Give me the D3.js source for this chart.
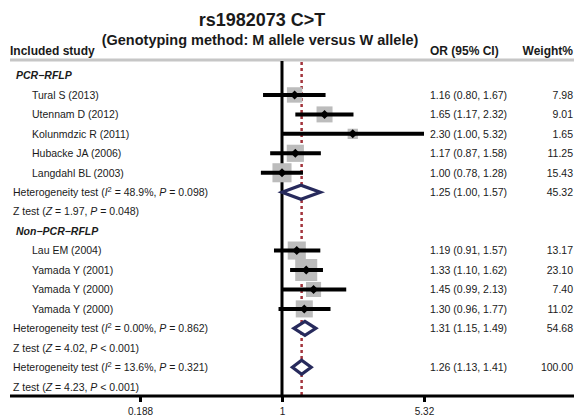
<!DOCTYPE html>
<html>
<head>
<meta charset="utf-8">
<script src="https://cdnjs.cloudflare.com/ajax/libs/d3/7.8.5/d3.min.js"></script>
<style>
body { margin: 0; background: #fff; }
text { font-family: 'Liberation Sans', Arial, sans-serif; fill: #1a1a1a; }
</style>
</head>
<body>
<script>

// study level data
const groups = ['PCR\u2212RFLP', 'Non\u2212PCR\u2212RFLP']
const studyGroup = [0, 0, 0, 0, 0, 1, 1, 1, 1]
const studyNames = ['Tural S (2013)', 'Utennam D (2012)', 'Kolunmdzic R (2011)', 'Hubacke JA (2006)',
	'Langdahl BL (2003)', 'Lau EM (2004)', 'Yamada Y (2001)', 'Yamada Y (2000)', 'Yamada Y (2000)']
const studyOR = [1.16, 1.65, 2.30, 1.17, 1.00, 1.19, 1.33, 1.45, 1.30]
const studyLow = [0.80, 1.17, 1.00, 0.87, 0.78, 0.91, 1.10, 0.99, 0.96]
const studyHigh = [1.67, 2.32, 5.32, 1.58, 1.28, 1.57, 1.62, 2.13, 1.77]
const studyWeight = ['7.98', '9.01', '1.65', '11.25', '15.43', '13.17', '23.10', '7.40', '11.02']

// pooled estimates: PCR-RFLP, Non-PCR-RFLP, overall
const poolOR = [1.25, 1.31, 1.26]
const poolLow = [1.00, 1.15, 1.13]
const poolHigh = [1.57, 1.49, 1.41]
const poolWeight = ['45.32', '54.68', '100.00']
const hetI2 = ['48.9%', '0.00%', '13.6%']
const hetP = ['= 0.098', '= 0.862', '= 0.321']
const zVal = ['1.97', '4.02', '4.23']
const zP = ['= 0.048', '< 0.001', '< 0.001']

const axisTicks = [0.188, 1, 5.32]

const width = 574
const height = 417

const fmt = d3.format('.2f')

// build the row layout
const rows = []
groups.forEach(function(g, gi) {
	rows.push({type: 'group', label: g})
	studyNames.forEach(function(s, i) {
		if (studyGroup[i] === gi) rows.push({type: 'study', i: i})
	})
	rows.push({type: 'het', i: gi})
	rows.push({type: 'z', i: gi})
})
rows.push({type: 'het', i: 2})
rows.push({type: 'z', i: 2})

const x = d3.scaleLog().domain([0.188, 5.32]).range([140, 424])
const y = d3.scaleLinear().domain([0, rows.length - 1]).range([75.5, 386.7])
const box = d3.scaleSqrt().domain([0, 23.1]).range([6, 22])

const axisY = 396

const svg = d3.select('body').append('svg')
	.attr('width', width)
	.attr('height', height)

// titles
svg.append('text')
	.attr('x', 262).attr('y', 26)
	.attr('text-anchor', 'middle')
	.style('font-size', '18px').style('font-weight', 'bold')
	.text('rs1982073 C>T')

svg.append('text')
	.attr('x', 260).attr('y', 45)
	.attr('text-anchor', 'middle')
	.style('font-size', '14.5px').style('font-weight', 'bold')
	.text('(Genotyping method: M allele versus W allele)')

const header = svg.append('g').style('font-size', '12px').style('font-weight', 'bold')
header.append('text').attr('x', 10).attr('y', 55).text('Included study')
header.append('text').attr('x', 430).attr('y', 55).text('OR (95% CI)')
header.append('text').attr('x', 573).attr('y', 55).attr('text-anchor', 'end').text('Weight%')

svg.append('line')
	.attr('x1', 10).attr('x2', width)
	.attr('y1', 60).attr('y2', 60)
	.style('stroke', '#c6c6c6').style('stroke-width', 3)

// reference lines
svg.append('line')
	.attr('x1', x(1)).attr('x2', x(1))
	.attr('y1', 61).attr('y2', axisY)
	.style('stroke', '#000').style('stroke-width', 3)

svg.append('line')
	.attr('x1', x(poolOR[2])).attr('x2', x(poolOR[2]))
	.attr('y1', 62).attr('y2', axisY)
	.style('stroke', '#a3343c').style('stroke-width', 2.5)
	.style('stroke-dasharray', '3,3')

// axis
svg.append('line')
	.attr('x1', 10).attr('x2', width)
	.attr('y1', axisY).attr('y2', axisY)
	.style('stroke', '#000').style('stroke-width', 3)

const xAxis = d3.axisBottom(x)
	.tickValues(axisTicks)
	.tickFormat(function(d) { return d })
	.tickSize(6)
	.tickPadding(6)

const ax = svg.append('g')
	.attr('transform', 'translate(0,' + axisY + ')')
	.call(xAxis)
ax.select('.domain').remove()
ax.selectAll('.tick line').style('stroke', '#000').style('stroke-width', 3)
ax.selectAll('.tick text')
	.style('font-family', "'Liberation Sans', Arial, sans-serif")
	.style('font-size', '10px').style('fill', '#1a1a1a')

// text column
const label = svg.append('g').style('font-size', '10.5px')

rows.forEach(function(r, k) {
	const yy = y(k) + 3.8
	if (r.type === 'group') {
		label.append('text').attr('x', 16).attr('y', yy)
			.style('font-weight', 'bold').style('font-style', 'italic')
			.text(r.label)
	} else if (r.type === 'study') {
		label.append('text').attr('x', 32).attr('y', yy).text(studyNames[r.i])
		label.append('text').attr('x', 430).attr('y', yy)
			.text(fmt(studyOR[r.i]) + ' (' + fmt(studyLow[r.i]) + ', ' + fmt(studyHigh[r.i]) + ')')
		label.append('text').attr('x', 573).attr('y', yy).attr('text-anchor', 'end').text(studyWeight[r.i])
	} else if (r.type === 'het') {
		const t = label.append('text').attr('x', 13).attr('y', yy)
		t.append('tspan').text('Heterogeneity test (')
		t.append('tspan').style('font-style', 'italic').text('I')
		t.append('tspan').attr('dy', -4).style('font-size', '7.5px').text('2')
		t.append('tspan').attr('dy', 4).text(' = ' + hetI2[r.i] + ', ')
		t.append('tspan').style('font-style', 'italic').text('P')
		t.append('tspan').text(' ' + hetP[r.i] + ')')
		label.append('text').attr('x', 430).attr('y', yy)
			.text(fmt(poolOR[r.i]) + ' (' + fmt(poolLow[r.i]) + ', ' + fmt(poolHigh[r.i]) + ')')
		label.append('text').attr('x', 573).attr('y', yy).attr('text-anchor', 'end').text(poolWeight[r.i])
	} else {
		const t = label.append('text').attr('x', 13).attr('y', yy)
		t.append('tspan').text('Z test (')
		t.append('tspan').style('font-style', 'italic').text('Z')
		t.append('tspan').text(' = ' + zVal[r.i] + ', ')
		t.append('tspan').style('font-style', 'italic').text('P')
		t.append('tspan').text(' ' + zP[r.i] + ')')
	}
})

// study marks
const studyRows = rows.map(function(r, k) { return {r: r, k: k} })
	.filter(function(d) { return d.r.type === 'study' })

svg.selectAll('.box')
	.data(studyRows)
.enter().append('rect')
	.attr('class', 'box')
	.attr('x', function(d) { return x(studyOR[d.r.i]) - box(+studyWeight[d.r.i]) / 2 })
	.attr('y', function(d) { return y(d.k) - box(+studyWeight[d.r.i]) / 2 })
	.attr('width', function(d) { return box(+studyWeight[d.r.i]) })
	.attr('height', function(d) { return box(+studyWeight[d.r.i]) })
	.style('fill', '#bcbcbc')

svg.selectAll('.ci')
	.data(studyRows)
.enter().append('line')
	.attr('class', 'ci')
	.attr('x1', function(d) { return x(studyLow[d.r.i]) })
	.attr('x2', function(d) { return x(studyHigh[d.r.i]) })
	.attr('y1', function(d) { return y(d.k) })
	.attr('y2', function(d) { return y(d.k) })
	.style('stroke', '#000').style('stroke-width', 4)

svg.selectAll('.pt')
	.data(studyRows)
.enter().append('path')
	.attr('class', 'pt')
	.attr('d', function(d) {
		const cx = x(studyOR[d.r.i]), cy = y(d.k)
		return 'M' + (cx - 4.5) + ',' + cy + 'L' + cx + ',' + (cy - 4.5) +
			'L' + (cx + 4.5) + ',' + cy + 'L' + cx + ',' + (cy + 4.5) + 'Z'
	})
	.style('fill', '#000')

// pooled diamonds
const poolRows = rows.map(function(r, k) { return {r: r, k: k} })
	.filter(function(d) { return d.r.type === 'het' })

svg.selectAll('.pool')
	.data(poolRows)
.enter().append('path')
	.attr('class', 'pool')
	.attr('d', function(d) {
		const i = d.r.i, cy = y(d.k)
		return 'M' + x(poolLow[i]) + ',' + cy + 'L' + x(poolOR[i]) + ',' + (cy - 7) +
			'L' + x(poolHigh[i]) + ',' + cy + 'L' + x(poolOR[i]) + ',' + (cy + 7) + 'Z'
	})
	.style('fill', '#fff')
	.style('stroke', '#272a5c')
	.style('stroke-width', 3.2)
	.style('stroke-linejoin', 'miter')

</script>
</body>
</html>
